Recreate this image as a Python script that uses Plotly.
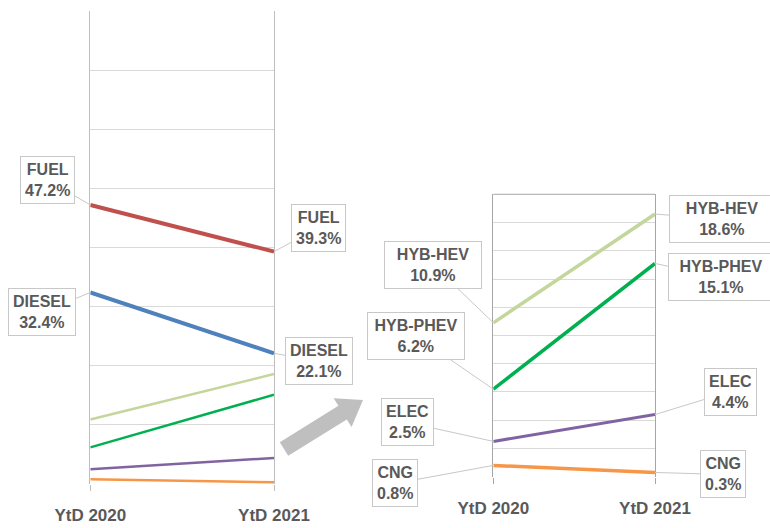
import math
import plotly.graph_objects as go

# share of registrations by fuel type
fuel_types = ['FUEL', 'DIESEL', 'HYB-HEV', 'HYB-PHEV', 'ELEC', 'CNG']
ytd_2020 = [47.2, 32.4, 10.9, 6.2, 2.5, 0.8]
ytd_2021 = [39.3, 22.1, 18.6, 15.1, 4.4, 0.3]
periods = ['YtD 2020', 'YtD 2021']

colors = ['#C0504D', '#4F81BD', '#C3D69B', '#00B050', '#8064A2', '#F79646']
left_widths = [4, 4, 2.5, 2.5, 2.5, 2.5]
right_widths = [3.5, 3.5, 3, 3.5]

# label offsets (pixels) for the callouts: (ax, ay) for 2020 and 2021
left_offsets = {'FUEL': [(-43, -25), (44, -24)],
                'DIESEL': [(-48, 20), (45, 8)]}
right_offsets = {'HYB-HEV': [(-60, -58), (67, 5)],
                 'HYB-PHEV': [(-77, -53), (66, 14)],
                 'ELEC': [(-86, -19), (75, -23)],
                 'CNG': [(-98, 18), (68, 2)]}

W, H = 770, 528
TEXT = '#595959'
FONT = 'Liberation Sans, Arial'

fig = go.Figure()

for i, name in enumerate(fuel_types):
    fig.add_trace(go.Scatter(
        x=[0, 1], y=[ytd_2020[i] / 100, ytd_2021[i] / 100],
        mode='lines', line=dict(color=colors[i], width=left_widths[i]),
        xaxis='x', yaxis='y', showlegend=False, hoverinfo='skip'
    ))

for j, name in enumerate(fuel_types[2:]):
    i = j + 2
    fig.add_trace(go.Scatter(
        x=[0, 1], y=[ytd_2020[i] / 100, ytd_2021[i] / 100],
        mode='lines', line=dict(color=colors[i], width=right_widths[j]),
        xaxis='x2', yaxis='y2', showlegend=False, hoverinfo='skip'
    ))


def callout(name, value, xi, offs, xref, yref, width=None):
    return dict(
        x=xi, y=value / 100, xref=xref, yref=yref,
        text='<b>%s</b><br><b>%.1f%%</b>' % (name, value),
        showarrow=True, arrowhead=0, arrowwidth=1, arrowcolor='#C8C8C8',
        ax=offs[0], ay=offs[1], standoff=0,
        font=dict(family=FONT, size=16, color=TEXT),
        bgcolor='white', bordercolor='#C8C8C8', borderwidth=1, borderpad=4,
        width=width
    )


annotations = []
for name, offs in left_offsets.items():
    i = fuel_types.index(name)
    annotations.append(callout(name, ytd_2020[i], 0, offs[0], 'x', 'y'))
    annotations.append(callout(name, ytd_2021[i], 1, offs[1], 'x', 'y'))
for name, offs in right_offsets.items():
    i = fuel_types.index(name)
    w0 = 88 if name.startswith('HYB') else None
    w1 = 96 if name.startswith('HYB') else None
    annotations.append(callout(name, ytd_2020[i], 0, offs[0], 'x2', 'y2', w0))
    annotations.append(callout(name, ytd_2021[i], 1, offs[1], 'x2', 'y2', w1))


def px_x(v):
    return v / W


def px_y(v):
    return 1 - v / H


# gray block arrow between the two panels (pixel geometry -> paper)
tail = (284, 449)
tip = (363, 400)
dx, dy = tip[0] - tail[0], tip[1] - tail[1]
L = math.hypot(dx, dy)
ux, uy = dx / L, dy / L
nx, ny = -uy, ux
shaft, head, head_len = 8, 17, 24
base = (tip[0] - ux * head_len, tip[1] - uy * head_len)
pts = [
    (tail[0] + nx * shaft, tail[1] + ny * shaft),
    (base[0] + nx * shaft, base[1] + ny * shaft),
    (base[0] + nx * head, base[1] + ny * head),
    tip,
    (base[0] - nx * head, base[1] - ny * head),
    (base[0] - nx * shaft, base[1] - ny * shaft),
    (tail[0] - nx * shaft, tail[1] - ny * shaft),
]
path = 'M ' + ' L '.join('%.4f,%.4f' % (px_x(p[0]), px_y(p[1])) for p in pts) + ' Z'

shapes = [
    dict(type='path', path=path, xref='paper', yref='paper',
         fillcolor='#BFBFBF', line=dict(width=0)),
    # top border of the right panel
    dict(type='line', xref='x2 domain', yref='y2 domain', x0=0, x1=1, y0=1, y1=1,
         line=dict(color='#A6A6A6', width=1)),
]

tick_font = dict(family=FONT, size=17, color=TEXT)
xaxis_common = dict(
    range=[0, 1], tickvals=[0, 1], ticktext=['<b>%s</b>' % p for p in periods],
    showgrid=False, zeroline=False, showline=False, automargin=False,
    ticks='outside', ticklen=6, tickfont=tick_font, ticklabelstandoff=10
)

fig.update_layout(
    width=W, height=H, autosize=False,
    margin=dict(l=0, r=0, t=0, b=0, pad=0, autoexpand=False),
    paper_bgcolor='white', plot_bgcolor='white',
    showlegend=False,
    xaxis=dict(xaxis_common, domain=[px_x(90.3), px_x(274)], tickcolor='#BFBFBF'),
    yaxis=dict(
        range=[0, 0.8], domain=[px_y(484), px_y(11)],
        tickvals=[0, 0.1, 0.2, 0.3, 0.4, 0.5, 0.6, 0.7],
        showticklabels=False, showgrid=True, gridcolor='#D9D9D9', automargin=False,
        zeroline=False, showline=True, mirror=True, linecolor='#BFBFBF', linewidth=1,
        anchor='x'
    ),
    xaxis2=dict(xaxis_common, domain=[px_x(493.3), px_x(655)], tickcolor='#A6A6A6',
                anchor='y2'),
    yaxis2=dict(
        range=[0, 0.2], domain=[px_y(476.7), px_y(194.3)],
        tickvals=[i / 50 for i in range(10)],
        showticklabels=False, showgrid=True, gridcolor='#D9D9D9', automargin=False,
        zeroline=False, showline=True, mirror=True, linecolor='#A6A6A6', linewidth=1,
        anchor='x2'
    ),
    annotations=annotations,
    shapes=shapes,
)

fig.write_html("out.html", config={'displayModeBar': False},
               post_script="document.body.style.margin='0';")
